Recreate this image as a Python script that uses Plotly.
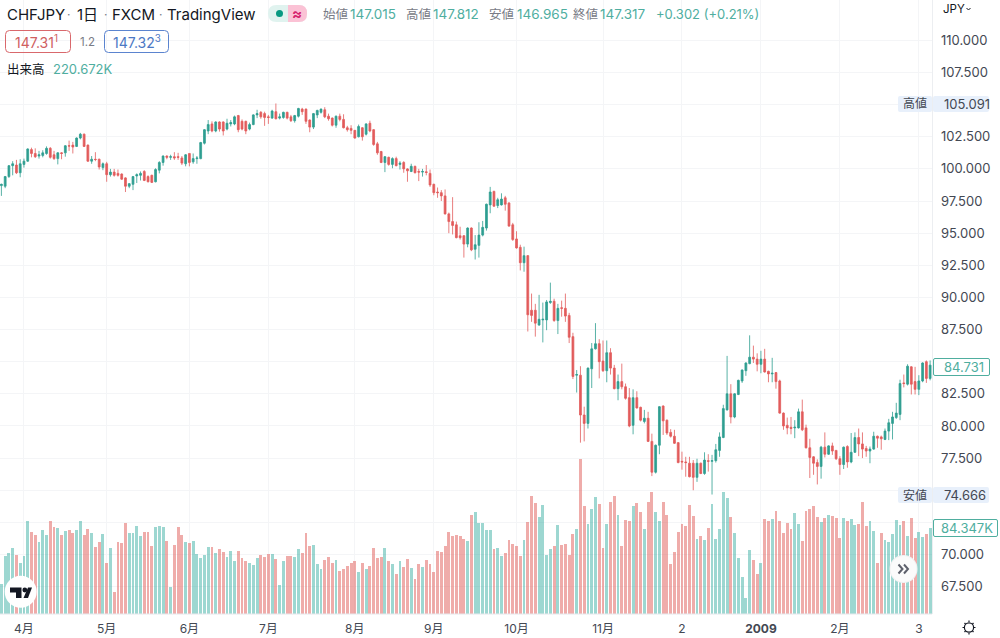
import plotly.graph_objects as go

opens = [98.7,98.65,99.4,100.25,100.3,99.7,100.35,100.6,101.5,101.2,
101,101.05,101.2,101.6,101.1,100.8,101.25,101.25,101.8,101.85,
101.75,102.4,102.7,101.85,100.6,100.75,100.75,100.1,100.4,99.55,
99.75,99.65,99.6,99.3,98.65,98.8,99.45,99.5,99.8,99.4,
99.5,99,99.9,100.5,101,100.9,100.95,100.95,100.85,100.4,
101.2,100.55,100.8,100.8,102,102.95,103.5,102.95,103.65,103.65,
103.1,103.5,103.5,104.15,103.7,103.7,103.1,103.45,104.2,104.4,
104.3,104.05,103.95,104.45,103.95,104,104.4,104.05,103.75,104.1,
104.65,104.65,103.8,103.25,104.2,104.4,104.6,104.1,103.95,103.4,
104.1,103.85,103.2,103.15,103,102.5,103.2,102.7,103.55,103.05,
101.95,101.35,100.5,100.9,100.35,100.8,100.35,100.5,100,99.8,
100.2,99.8,99.75,99.78,99.65,98.8,98.2,98.15,97.9,96.5,
95.9,95.65,94.8,94.8,94.15,95.4,93.75,94.05,94.85,95.4,
97.2,98.25,97.15,97.2,97.75,97.35,95.65,94.55,93.9,92.7,
93.25,89,89,87.85,88.25,88.25,89.6,89.7,88.2,89.2,
89.15,88.6,86.95,83.95,83.95,80.85,80.2,84.45,86,86.4,
85.05,84.3,85.7,84.5,82.9,83.45,83.05,82.2,80.05,82.2,
81.45,80.35,80.6,78.8,76.4,78.5,81.55,80.45,79.5,79.2,
78.7,77.25,77.2,77.1,77.1,76,77.1,76.3,77.3,77.25,
77.3,78.1,79.1,81.25,82.5,80.7,82.45,83.5,84.3,84.85,
85.35,85.2,84.8,85.2,84.25,84.05,84.15,83.5,81,80.05,
79.9,79.85,79.85,81.1,79.85,78.3,77.6,77.15,76.85,78.35,
77.8,78.45,78.1,77.45,77,78.4,77.2,77.95,79.1,78.6,
78.25,78.05,78.2,79.2,79.15,78.95,79.6,80.2,80.65,80.9,
83.35,83.25,84.6,83.45,82.85,83.5,85,83.7]

highs = [98.85,99.45,100.3,100.6,100.7,100.75,100.8,101.6,101.65,101.6,
101.4,101.45,101.75,101.7,101.4,101.3,101.3,101.85,102.2,102.1,
102.45,102.8,102.75,101.9,101,101.3,100.8,100.5,100.55,100,
100,99.95,99.65,99.35,98.9,99.45,99.65,99.8,99.9,99.5,
99.55,100.05,100.6,101.05,101.05,101.1,101.3,101.25,101,101.15,
101.2,101.2,101,102.1,103.1,103.8,103.7,103.7,103.7,103.7,
103.9,103.8,104.15,104.2,103.85,103.75,103.6,104.25,104.6,104.5,
104.45,104.2,104.6,105.09,104.3,104.45,104.45,104.2,104.2,104.75,
104.75,104.7,103.85,104.35,104.6,104.7,104.8,104.3,104,104.15,
104.3,104.25,103.35,103.4,103,103.45,103.25,103.55,103.75,103.1,
102.1,101.4,101,100.95,100.9,100.95,100.6,100.6,100.05,100.4,
100.25,100,100,100.3,99.95,98.85,98.55,98.35,98.4,96.6,
97.8,95.9,95.5,94.85,95.45,95.45,94.85,95.85,95.95,97.3,
98.6,98.3,97.75,98.1,97.9,97.4,95.8,95.15,94.1,93.95,
93.3,90.3,89.5,90.2,89.6,89.8,91.15,89.9,89.5,89.75,
90.3,88.8,87.25,84.35,84.65,81.5,84.55,86.45,88,86.75,
86.65,86.65,86.05,84.75,84,84.85,83.3,82.95,82.85,82.7,
81.5,81.25,81.1,79.4,78.55,81.55,81.6,80.5,79.75,79.7,
78.75,78,77.6,77.6,77.35,77.45,77.15,77.95,77.8,77.75,
78.6,79.5,81.65,85.45,83.25,82.55,83.6,84.4,84.95,87.05,
86.25,85.65,85.85,86,84.3,85.3,84.2,83.6,81.05,80.65,
80.7,80.45,81.35,82.05,80.1,79,77.65,77.4,78.45,79.5,
78.5,78.7,78.1,77.65,78.4,78.5,79.45,79.5,79.8,79.5,
78.45,78.4,79.55,79.25,79.25,79.8,80.55,81.1,81.8,83.6,
84,84.8,84.65,84.6,83.95,84.95,85.1,85.1]

lows = [97.9,98.5,99.3,99.5,99.6,99.35,100.1,100.55,100.9,100.85,
100.8,100.9,101.1,100.8,100.7,100.35,100.75,100.95,101.4,101.2,
101.7,102.3,101.7,100.55,100.4,100.6,99.95,99.9,99,99.4,
99.4,99.4,99.15,98.2,98.5,98.35,98.9,99.1,99.05,98.95,
98.9,98.95,99.65,100.25,100.75,100.7,100.7,100.7,100.3,100.2,
100.2,100.4,100.4,100.75,101.9,102.7,102.85,102.85,102.9,102.6,
103,103.3,103.4,102.85,103,102.7,103,103.4,103.95,103.9,
103.35,103.5,103.9,103.85,103.85,103.9,103.85,103.65,103.6,104,
104.2,103.5,102.85,103.1,103.95,104.3,103.95,103.75,103.3,103.2,
103.7,103.15,102.9,102.7,102.35,102.45,102.2,102.6,102.85,101.8,
101.1,100.45,99.75,100.25,100.05,100.2,99.95,99.7,99,99.75,
99.65,99.05,99.4,99.5,98.6,97.95,97.75,97.5,96.45,95,
94.9,94.6,94.5,93.1,93.9,93.6,92.95,93.1,94.75,95.2,
96.55,97.05,96.95,97.15,96.75,95.5,94.4,93.8,92.1,92,
87.35,88.1,86.95,87.8,86.5,87.45,89.5,88.1,87.15,88.5,
88.1,86.45,83.65,82.6,78.7,78.8,79.8,82.95,85.95,83.7,
84.2,83.4,84,82.85,82,82.85,82.05,79.9,79.35,81.35,
80.35,80.2,78.75,76.1,76.3,77.8,79.3,79.3,79.1,78.6,
77.1,76.6,76.05,76,75,75.65,76.25,76.2,76.45,74.666,
77.15,77.6,79.05,81.2,80.2,80.6,82.4,83.35,83.9,84.8,
84.9,84.25,84.1,84.15,83.4,83.4,82.9,80.95,79.7,79.35,
79.35,79.05,79.8,79.6,78.25,75.95,76.2,75.45,75.9,77.55,
77.75,77.75,77.35,76.2,76.65,76.75,77.1,77.9,77.65,77.5,
77.6,77.1,78.15,78.3,78.15,78.9,78.9,78.95,80.55,80.45,
83,83.15,82.45,82.45,82.4,83.4,83.35,83.55]

closes = [98.8,99.4,100.25,100.4,99.7,100.4,100.6,101.55,101.2,100.95,
101.1,101.25,101.6,100.9,100.8,101.25,101.2,101.8,101.78,101.7,
102.4,102.7,101.75,100.6,100.75,100.73,100.15,100.4,99.55,99.75,
99.5,99.5,99.2,98.65,98.85,99.4,99.55,99.65,99.1,99,
98.95,99.95,100.5,101,100.9,100.95,100.85,100.9,100.45,101.1,
100.5,100.8,100.85,102.05,103.05,103.45,102.95,103.65,103.1,102.95,
103.55,103.6,104.05,103.05,103.1,102.95,103.45,104.2,104.3,104.05,
104,104,104.5,103.9,104.05,104.4,103.95,103.75,104.15,104.7,
104.45,103.7,103.25,104.3,104.55,104.65,104.05,103.9,103.4,104.1,
103.85,103.2,103.05,103,102.4,103.3,102.5,103.5,102.95,101.9,
101.25,100.5,100.95,100.35,100.8,100.25,100.45,100,99.85,100.2,
99.7,99.75,99.8,99.72,98.75,98.15,98.15,97.9,96.5,95.9,
95.6,94.65,94.65,94.15,95.4,93.7,94.1,94.85,95.45,97.25,
98.2,97.1,97.6,97.65,97.25,95.55,94.5,93.85,92.7,93.25,
88.65,88.6,88,88.3,88.3,89.65,89.7,88.2,89.15,89.15,
88.55,86.9,83.85,84,80.85,80.2,84.5,86,86.4,85,
84.3,85.7,84.5,82.9,83.45,83.05,82.15,80,82.2,81.4,
80.45,80.6,78.8,76.4,78.5,81.5,80.4,79.45,79.2,78.65,
77.15,77.2,77.15,76.05,76,77.1,76.3,77.35,77.25,77.3,
78.15,79.15,81.35,82.5,80.7,82.5,83.55,84.35,84.9,85.35,
85.2,84.8,85.2,84.2,84.05,84.1,83.45,81,80,79.85,
79.8,79.9,81.1,79.7,78.3,77.55,77.1,76.85,78.35,77.8,
78.45,78.05,77.45,77,78.35,77.2,77.95,79.1,78.6,78.2,
78.05,78.2,79.2,79.05,79,79.6,80.25,80.7,81,83.3,
83.3,84.65,83.25,82.85,83.5,84.9,83.7,84.731]

volumes_k = [29.2,57.4,60.4,65.3,57.7,50.5,57.4,90.9,81.0,77.4,
70.5,82.3,78.1,91.8,85.0,84.3,78.1,81.3,83.0,79.4,
82.3,91.2,77.4,84.0,79.4,65.6,70.5,78.4,50.5,64.6,
21.6,71.2,70.2,89.5,79.4,80.0,86.9,76.4,80.4,80.4,
66.9,85.9,86.3,85.6,71.5,26.2,67.6,85.0,77.4,71.2,
69.9,71.5,58.7,55.4,58.4,65.6,65.6,59.7,64.3,61.3,
55.8,62.3,52.5,61.7,55.4,51.8,50.5,47.9,55.4,58.1,
55.8,59.4,58.7,54.4,28.9,52.5,57.4,56.7,56.4,64.0,
60.4,79.4,67.2,68.2,49.2,44.0,53.5,55.8,49.9,52.8,
42.0,44.6,47.6,50.5,52.5,41.0,50.5,44.6,47.6,65.3,
54.8,56.4,65.3,52.2,48.9,39.7,52.5,46.6,53.8,45.6,
34.8,49.5,46.2,52.8,49.5,41.0,61.7,60.7,67.2,80.7,
77.1,78.1,76.4,73.8,71.8,96.8,100.7,89.2,89.2,82.3,
82.3,64.0,64.6,57.4,60.0,72.5,69.2,66.6,56.7,73.1,
90.2,116.4,108.6,95.8,106.9,57.7,63.6,66.6,87.6,67.6,
69.2,58.4,79.0,83.6,151.9,105.9,88.2,103.6,114.8,107.9,
65.3,88.9,110.2,116.4,97.7,66.9,92.8,91.2,106.3,108.9,
100.7,84.0,109.6,119.7,100.4,91.2,110.2,97.1,49.5,61.0,
80.4,88.9,86.9,106.9,96.4,74.1,76.8,73.1,84.3,107.6,
73.8,83.6,119.7,113.5,95.1,80.0,55.1,36.4,15.4,62.6,
52.8,39.0,49.9,93.2,90.9,93.2,101.0,90.9,79.7,89.5,
83.6,99.1,88.9,71.8,101.4,102.7,105.9,95.1,90.2,94.1,
96.8,96.1,94.1,75.1,94.1,91.2,93.8,87.2,88.2,109.9,
86.3,90.9,81.3,50.5,80.0,73.1,71.2,79.0,92.2,87.6,
91.5,77.1,94.8,75.1,80.4,76.1,79.0,84.347]

month_ticks = [6, 28, 50, 71, 94, 115, 137, 160, 181, 202, 223, 244]
month_labels = ["4月", "5月", "6月", "7月", "8月", "9月", "10月", "11月", "2", "<b>2009</b>", "2月", "3"]
price_ticks = [67.5, 70, 72.5, 75, 77.5, 80, 82.5, 85, 87.5, 90, 92.5, 95, 97.5, 100, 102.5, 105, 107.5, 110]
covered_ticks = [72.5, 75, 85, 105]

UP, DOWN = "#2f9e91", "#e25c5c"
UP_V, DOWN_V = "rgba(38,166,154,0.45)", "rgba(224,90,85,0.5)"
GRID = "#f4f5f7"
FONT = "Inter, 'Noto Sans CJK JP', sans-serif"
INK, GRAY, GREEN = "#131722", "#787b86", "#4fae9f"
AXIS_INK = "#434853"
W, H = 932, 614

def xp(x): return x / W
def yp(y): return 1 - y / H

idx = list(range(len(opens)))
fig = go.Figure()
fig.add_bar(x=idx, y=volumes_k, yaxis="y", width=0.76,
            marker=dict(color=[UP_V if c >= o else DOWN_V for o, c in zip(opens, closes)], line_width=0),
            showlegend=False)
fig.add_candlestick(x=idx, open=opens, high=highs, low=lows, close=closes, yaxis="y2",
                    increasing=dict(line=dict(color=UP, width=0.8), fillcolor=UP),
                    decreasing=dict(line=dict(color=DOWN, width=0.8), fillcolor=DOWN),
                    whiskerwidth=0, showlegend=False)

ann = []
def text(x, y, s, size=13, color=INK, anchor="left"):
    xx = x - 2 if anchor == "left" else x
    ann.append(dict(x=xp(xx), y=yp(y), xref="paper", yref="paper", text=s, showarrow=False,
                    xanchor=anchor, yanchor="middle", font=dict(family=FONT, size=size, color=color)))

shapes = []
def rrect(x0, y0, x1, y1, r, fill="rgba(0,0,0,0)", line=None, lw=1):
    p = (f"M {xp(x0+r)} {yp(y0)} L {xp(x1-r)} {yp(y0)} Q {xp(x1)} {yp(y0)} {xp(x1)} {yp(y0+r)} "
         f"L {xp(x1)} {yp(y1-r)} Q {xp(x1)} {yp(y1)} {xp(x1-r)} {yp(y1)} L {xp(x0+r)} {yp(y1)} "
         f"Q {xp(x0)} {yp(y1)} {xp(x0)} {yp(y1-r)} L {xp(x0)} {yp(y0+r)} Q {xp(x0)} {yp(y0)} {xp(x0+r)} {yp(y0)} Z")
    shapes.append(dict(type="path", xref="paper", yref="paper", path=p, fillcolor=fill,
                       line=dict(color=line or "rgba(0,0,0,0)", width=lw if line else 0)))
def circle(cx, cy, r, fill="white", line=None, lw=1):
    shapes.append(dict(type="circle", xref="paper", yref="paper", x0=xp(cx-r), x1=xp(cx+r), y0=yp(cy+r), y1=yp(cy-r),
                       fillcolor=fill, line=dict(color=line or "rgba(0,0,0,0)", width=lw if line else 0)))
def poly(points, fill=None, line=None, lw=1.5, close=True):
    p = "M " + " L ".join(f"{xp(a)} {yp(b)}" for a, b in points) + (" Z" if close else "")
    shapes.append(dict(type="path", xref="paper", yref="paper", path=p, fillcolor=fill or "rgba(0,0,0,0)",
                       line=dict(color=line or "rgba(0,0,0,0)", width=lw if line else 0)))

# header
text(7, 14.5, "CHFJPY", 15)
text(67, 14, "·", 12, GRAY)
text(77, 14.5, "1日", 15)
text(104, 14, "·", 12, GRAY)
text(112, 14.5, "FXCM", 15)
text(159, 14, "·", 12, GRAY)
text(167, 14.5, "TradingView", 15)
rrect(268, 5, 307, 22, 8.5, fill="#e0f3ef")
rrect(288, 5, 307, 22, 8, fill="#fbc2d5")
shapes.append(dict(type="rect", xref="paper", yref="paper", x0=xp(288), x1=xp(296), y0=yp(22), y1=yp(5),
                   fillcolor="#fbc2d5", line_width=0))
circle(279.5, 13.5, 3.5, fill="#089981")
text(296.5, 13.5, "<b>≈</b>", 15, "#d6246e", "center")

for x, s, color, size in [(323, "始値", GRAY, 12.5), (350, "147.015", GREEN, 13.5), (406, "高値", GRAY, 12.5),
                          (433, "147.812", GREEN, 13.5), (489, "安値", GRAY, 12.5), (517, "146.965", GREEN, 13.5),
                          (573, "終値", GRAY, 12.5), (600, "147.317", GREEN, 13.5), (656, "+0.302 (+0.21%)", GREEN, 13)]:
    text(x, 14, s, size, color)

rrect(5.5, 30.5, 70.5, 52.5, 4, line="#d9686c")
text(14.5, 41.5, "147.31<sup>1</sup>", 14, "#d0605f")
text(80, 42, "1.2", 11.5, GRAY)
rrect(104.5, 30.5, 168.5, 52.5, 4, line="#5b84cf")
text(112.5, 41.5, "147.32<sup>3</sup>", 14, "#4c78c4")
text(7, 69, "出来高", 12.5, INK)
text(53, 69, "220.672K", 13, GREEN)

# price axis extras
text(943, 9, "JPY", 11.5)
poly([(966.5, 8), (968.5, 10), (970.5, 8)], line=INK, lw=1, close=False)

for y0, y1, lab, val in [(96, 112, "高値", "105.091"), (487, 503, "安値", "74.666")]:
    rrect(898, y0, 932, y1, 2, fill="#e8f0fb")
    rrect(933, y0, 989, y1, 2, fill="#e8f0fb")
    text(915, (y0 + y1) / 2, lab, 12, AXIS_INK, "center")
    text(944, (y0 + y1) / 2, val, 13, AXIS_INK)
rrect(933.5, 358.5, 989.5, 375.5, 1.5, fill="white", line="#4fae9f")
text(944, 367, "84.731", 13, GREEN)
rrect(933.5, 519.5, 997.5, 536.5, 1.5, fill="white", line="#4fae9f")
text(941, 528, "84.347K", 13, GREEN)

# scroll button
circle(903.5, 569, 14, fill="#f0f1f2")
circle(903.5, 569, 13, fill="#fbfbfb")
poly([(898.5, 564.5), (902.5, 569), (898.5, 573.5)], line="#5d606b", lw=2, close=False)
poly([(904, 564.5), (908, 569), (904, 573.5)], line="#5d606b", lw=2, close=False)

# logo
circle(20.7, 591.7, 16, fill="white")
poly([(10, 587.5), (21.5, 587.5), (21.5, 598), (16, 598), (16, 592.5), (10, 592.5)], fill="#131722")
circle(24.8, 590, 2.4, fill="#131722")
poly([(23.5, 598), (28, 587.5), (32, 587.5), (28, 598)], fill="#131722")

# settings icon
circle(969, 627.5, 4.6, fill="white", line=INK, lw=1.2)
for a, b, c, d in [(969, 620.5, 969, 622), (969, 633, 969, 634.5), (962.5, 627.5, 964, 627.5), (974, 627.5, 975.5, 627.5),
                   (964.5, 623, 965.5, 624), (972.5, 631, 973.5, 632), (964.5, 632, 965.5, 631), (972.5, 624, 973.5, 623)]:
    poly([(a, b), (c, d)], line=INK, lw=1.2, close=False)

# pane edges
poly([(0, 614), (932, 614)], line="#e6e8ec", lw=1, close=False)
poly([(932.5, 0), (932.5, 614)], line="#eceef1", lw=1, close=False)

fig.update_layout(
    width=1000, height=638, autosize=False, margin=dict(l=0, r=68, t=0, b=24),
    paper_bgcolor="white", plot_bgcolor="white", font=dict(family=FONT, color=INK),
    showlegend=False, hovermode=False, bargap=0,
    shapes=shapes, annotations=ann,
    xaxis=dict(range=[-0.372, 247.5], tickmode="array", tickvals=month_ticks, ticktext=month_labels,
               showgrid=True, gridcolor=GRID, gridwidth=1, zeroline=False, showline=False,
               ticks="", tickfont=dict(size=12, color=AXIS_INK, family=FONT), rangeslider=dict(visible=False),
               ticklabelstandoff=6),
    yaxis=dict(range=[0, 151.9 * 614 / 154.6], fixedrange=True, showgrid=False, showticklabels=False,
               zeroline=False, showline=False, ticks=""),
    yaxis2=dict(overlaying="y", side="right", range=[65.37, 113.14], tickmode="array", tickvals=price_ticks,
                ticktext=["" if v in covered_ticks else f"{v:.3f}" for v in price_ticks],
                showgrid=True, gridcolor=GRID, gridwidth=1,
                zeroline=False, showline=False, ticks="", tickfont=dict(size=13, color=AXIS_INK, family=FONT),
                ticklabelstandoff=8),
)
fig.write_html("out.html", config={"displayModeBar": False},
               post_script="document.body.style.margin='0';document.documentElement.style.overflow='hidden';")
